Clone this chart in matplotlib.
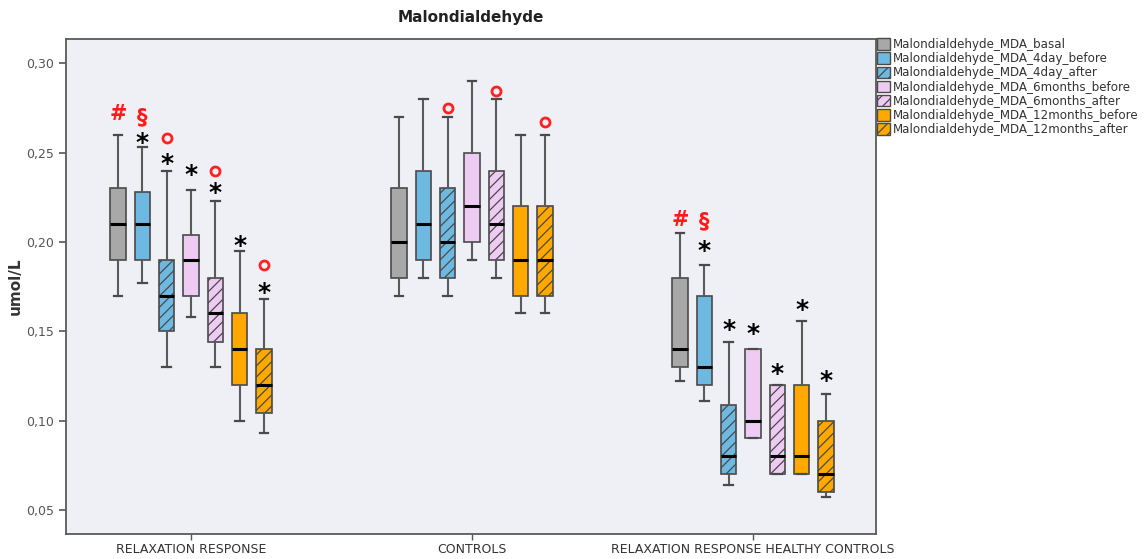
import matplotlib
matplotlib.use("Agg")
import matplotlib.pyplot as plt
from matplotlib.patches import Patch
from matplotlib.ticker import FuncFormatter
import numpy as np

# ---------------- data ----------------
groups = ["RELAXATION RESPONSE", "CONTROLS", "RELAXATION RESPONSE HEALTHY CONTROLS"]
series = ["Malondialdehyde_MDA_basal", "Malondialdehyde_MDA_4day_before",
          "Malondialdehyde_MDA_4day_after", "Malondialdehyde_MDA_6months_before",
          "Malondialdehyde_MDA_6months_after", "Malondialdehyde_MDA_12months_before",
          "Malondialdehyde_MDA_12months_after"]

# (whisker low, Q1, median, Q3, whisker high) per group
basal          = [(0.170, 0.190, 0.210, 0.230, 0.260), (0.170, 0.180, 0.200, 0.230, 0.270), (0.122, 0.130, 0.140, 0.180, 0.205)]
day4_before    = [(0.177, 0.190, 0.210, 0.228, 0.253), (0.180, 0.190, 0.210, 0.240, 0.280), (0.111, 0.120, 0.130, 0.170, 0.187)]
day4_after     = [(0.130, 0.150, 0.170, 0.190, 0.240), (0.170, 0.180, 0.200, 0.230, 0.270), (0.064, 0.070, 0.080, 0.109, 0.144)]
m6_before      = [(0.158, 0.170, 0.190, 0.204, 0.229), (0.190, 0.200, 0.220, 0.250, 0.290), (0.090, 0.090, 0.100, 0.140, 0.140)]
m6_after       = [(0.130, 0.144, 0.160, 0.180, 0.223), (0.180, 0.190, 0.210, 0.240, 0.280), (0.070, 0.070, 0.080, 0.120, 0.120)]
m12_before     = [(0.100, 0.120, 0.140, 0.160, 0.195), (0.160, 0.170, 0.190, 0.220, 0.260), (0.070, 0.070, 0.080, 0.120, 0.156)]
m12_after      = [(0.093, 0.104, 0.120, 0.140, 0.168), (0.160, 0.170, 0.190, 0.220, 0.260), (0.057, 0.060, 0.070, 0.100, 0.115)]
all_stats = [basal, day4_before, day4_after, m6_before, m6_after, m12_before, m12_after]

colors  = ["#a8a8a8", "#6db9e1", "#6db9e1", "#eecbf2", "#eecbf2", "#ffa800", "#ffa800"]
hatches = [None, None, "///", None, "///", None, "///"]

# annotations: (group index, series index, symbol, value)
ann_group  = [0, 0, 0, 0, 0, 0, 0, 0, 0, 0, 0,
              1, 1, 1,
              2, 2, 2, 2, 2, 2, 2, 2]
ann_series = [0, 1, 1, 2, 2, 3, 4, 4, 5, 6, 6,
              2, 4, 6,
              0, 1, 1, 2, 3, 4, 5, 6]
ann_symbol = ["#", "§", "*", "o", "*", "*", "o", "*", "*", "o", "*",
              "o", "o", "o",
              "#", "§", "*", "*", "*", "*", "*", "*"]
ann_value  = [0.2715, 0.2700, 0.2570, 0.2580, 0.2455, 0.2390, 0.2400, 0.2290, 0.1995, 0.1870, 0.1730,
              0.2750, 0.2846, 0.2674,
              0.2124, 0.2114, 0.1965, 0.1526, 0.1500, 0.1280, 0.1638, 0.1240]

# ---------------- figure ----------------
plt.rcParams["hatch.linewidth"] = 0.9
plt.rcParams["font.family"] = ["DejaVu Sans"]

fig = plt.figure(figsize=(11.45, 5.59), dpi=100)
ax = fig.add_axes([0.0574, 0.0453, 0.7074, 0.8849])
ax.set_facecolor("#eff0f5")

spacing = 0.0866
box_w = 0.055
edge = "#4a4a4a"

for si, stats_list in enumerate(all_stats):
    stats = []
    pos = []
    for gi, (lo, q1, med, q3, hi) in enumerate(stats_list):
        stats.append(dict(whislo=lo, q1=q1, med=med, q3=q3, whishi=hi, fliers=[]))
        pos.append(gi + (si - 3) * spacing)
    bp = ax.bxp(stats, positions=pos, widths=box_w, patch_artist=True,
                showfliers=False, manage_ticks=False,
                boxprops=dict(facecolor=colors[si], edgecolor=edge, linewidth=1.2),
                medianprops=dict(color="black", linewidth=2.2),
                whiskerprops=dict(color="#5a5a5a", linewidth=1.5),
                capprops=dict(color="#4a4a4a", linewidth=1.6),
                capwidths=box_w * 0.55)
    for b in bp["boxes"]:
        if hatches[si]:
            b.set_hatch(hatches[si])
        b.set_zorder(2)

for g, s, sym, v in zip(ann_group, ann_series, ann_symbol, ann_value):
    x = g + (s - 3) * spacing
    if sym == "o":
        ax.plot([x], [v], marker="o", markersize=6.5, mfc="none", mec="#ff2020",
                mew=2.0, zorder=5)
    elif sym == "*":
        ax.text(x, v - 0.0017, "*", ha="center", va="center", fontsize=18,
                fontweight="bold", color="black", zorder=5)
    else:
        ax.text(x, v, sym, ha="center", va="center", fontsize=15,
                fontweight="bold", color="#ff1a1a", zorder=5)

ax.set_xlim(-0.446, 2.437)
ax.set_ylim(0.0367, 0.3137)
ax.set_yticks([0.05, 0.10, 0.15, 0.20, 0.25, 0.30])
ax.yaxis.set_major_formatter(FuncFormatter(lambda v, p: f"{v:.2f}".replace(".", ",")))
ax.set_xticks([0, 1, 2])
ax.set_xticklabels(groups, fontsize=9, color="#333333")
ax.tick_params(axis="y", labelsize=9, colors="#555555", length=5, width=1.2, labelcolor="#555555")
ax.tick_params(axis="x", length=4, width=1.0, colors="#555555", labelcolor="#333333", pad=3)
for sp in ax.spines.values():
    sp.set_color("#5a5a5a")
    sp.set_linewidth(1.3)

ax.set_ylabel("umol/L", fontsize=11, fontweight="bold", color="#333333", labelpad=2)
ax.set_title("Malondialdehyde", fontsize=11, fontweight="bold", color="#222222", pad=12)

handles = [Patch(facecolor=colors[i], edgecolor=edge, hatch=hatches[i], linewidth=1.0)
           for i in range(len(series))]
fig.legend(handles, series, loc="upper left", bbox_to_anchor=(877 / 1145, 1 - 38 / 559),
           frameon=False, fontsize=8.6, handlelength=1.1, handleheight=1.1,
           handletextpad=0.25, labelspacing=0.1, borderpad=0, borderaxespad=0,
           labelcolor="#333333")

fig.savefig("out.png", dpi=100)
